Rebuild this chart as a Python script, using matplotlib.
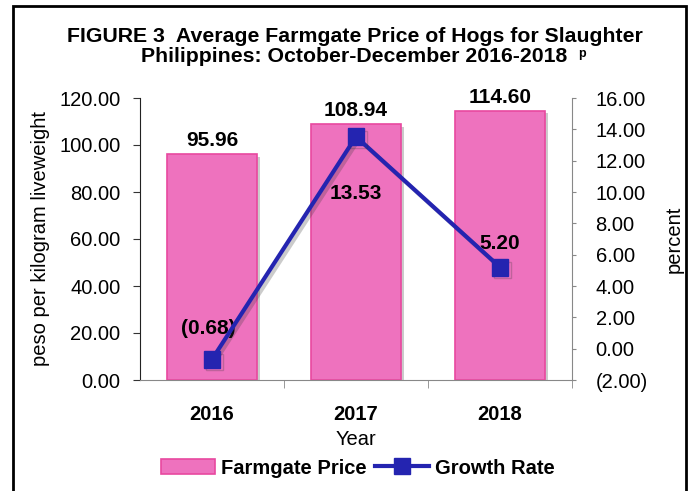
import matplotlib
matplotlib.use("Agg")
import matplotlib.pyplot as plt
import matplotlib.patheffects as pe
from matplotlib.lines import Line2D
from matplotlib.patches import Rectangle, Patch

years = ["2016", "2017", "2018"]
price = [95.96, 108.94, 114.60]
growth = [-0.68, 13.53, 5.20]
growth_labels = ["(0.68)", "13.53", "5.20"]
left_ticks = [0, 20, 40, 60, 80, 100, 120]
right_ticks = [-2, 0, 2, 4, 6, 8, 10, 12, 14, 16]

plt.rcParams['font.family'] = ['Liberation Sans', 'DejaVu Sans']

W, H = 690, 491
fig = plt.figure(figsize=(W/100, H/100), dpi=100)
ax = fig.add_axes([140/W, 1-380/H, 432/W, 282/H])

pink = "#EE72BE"
pink_edge = "#E8489F"
blue = "#2424B0"
FS = 14.5

x = list(range(len(years)))
shadow = [pe.SimplePatchShadow(offset=(2, -2), alpha=0.3, shadow_rgbFace="#555555"), pe.Normal()]
ax.bar(x, price, width=0.625, color=pink, edgecolor=pink_edge, linewidth=1.2, zorder=2,
       path_effects=shadow)
ax.set_xlim(-0.5, 2.5)
ax.set_ylim(0, 120)
ax.set_yticks(left_ticks)
ax.set_yticklabels([f"{v:.2f}" for v in left_ticks], fontsize=FS)
ax.set_xticks(x)
ax.set_xticklabels(years, fontsize=FS, fontweight='bold')
ax.set_xticks([0.5, 1.5, 2.5], minor=True)
ax.tick_params(axis='x', which='major', length=0, pad=18)
ax.tick_params(axis='x', which='minor', length=6, color='#888888', direction='out')
ax.tick_params(axis='y', length=5, color='#333333', pad=9)
ax.set_xlabel("Year", fontsize=FS, labelpad=4)
ax.set_ylabel("peso per kilogram liveweight", fontsize=FS, labelpad=7)
for s in ['top', 'right']:
    ax.spines[s].set_visible(False)
ax.spines['left'].set_color('#222222')
ax.spines['bottom'].set_color('#888888')

for xi, v in zip(x, price):
    ax.annotate(f"{v:.2f}", (xi, v), xytext=(0, 3), textcoords='offset points',
                ha='center', va='bottom', fontsize=15, fontweight='bold')

ax2 = ax.twinx()
ax2.set_ylim(-2, 16)
ax2.set_yticks(right_ticks)
ax2.set_yticklabels([f"({abs(v):.2f})" if v < 0 else f"{v:.2f}" for v in right_ticks], fontsize=FS)
ax2.tick_params(axis='y', length=3, color='#888888', pad=14)
for s in ['top', 'left', 'bottom']:
    ax2.spines[s].set_visible(False)
ax2.spines['right'].set_color('#888888')
ax2.set_ylabel("percent", fontsize=FS, labelpad=12)
lshadow = [pe.SimpleLineShadow(offset=(2, -2), alpha=0.25, shadow_color="#333333"), pe.Normal()]
ax2.plot(x, growth, color=blue, linewidth=3, marker='s', markersize=12, zorder=5,
         path_effects=lshadow)
offsets = [(-3, 15), (0, -48), (0, 10)]
for xi, v, lab, off in zip(x, growth, growth_labels, offsets):
    ax2.annotate(lab, (xi, v), xytext=off, textcoords='offset points',
                 ha='center', va='bottom', fontsize=15, fontweight='bold')

fig.text(355/W, 1-36/H, "FIGURE 3  Average Farmgate Price of Hogs for Slaughter",
         ha='center', va='center', fontsize=15.3, fontweight='bold')
t2 = fig.text(354/W, 1-57/H, "Philippines: October-December 2016-2018",
              ha='center', va='center', fontsize=15.3, fontweight='bold')
fig.text(582/W, 1-54/H, "p", ha='center', va='center', fontsize=9, fontweight='bold')

handles = [Patch(facecolor=pink, edgecolor=pink_edge, linewidth=1.2),
           Line2D([0], [0], color=blue, linewidth=3, marker='s', markersize=11)]
fig.legend(handles, ["Farmgate Price", "Growth Rate"], loc='center',
           bbox_to_anchor=(358/W, 1-468/H), ncol=2, frameon=False,
           prop={'size': FS, 'weight': 'bold'}, handlelength=2.7, handleheight=0.8,
           columnspacing=0.4, handletextpad=0.3)

fig.patches.append(Rectangle((12.5/W, -0.05), (686-12.5)/W, 1.05 - 6.5/H,
                             transform=fig.transFigure, fill=False, edgecolor='black',
                             linewidth=2, zorder=10))
fig.savefig("out.png", dpi=100)
